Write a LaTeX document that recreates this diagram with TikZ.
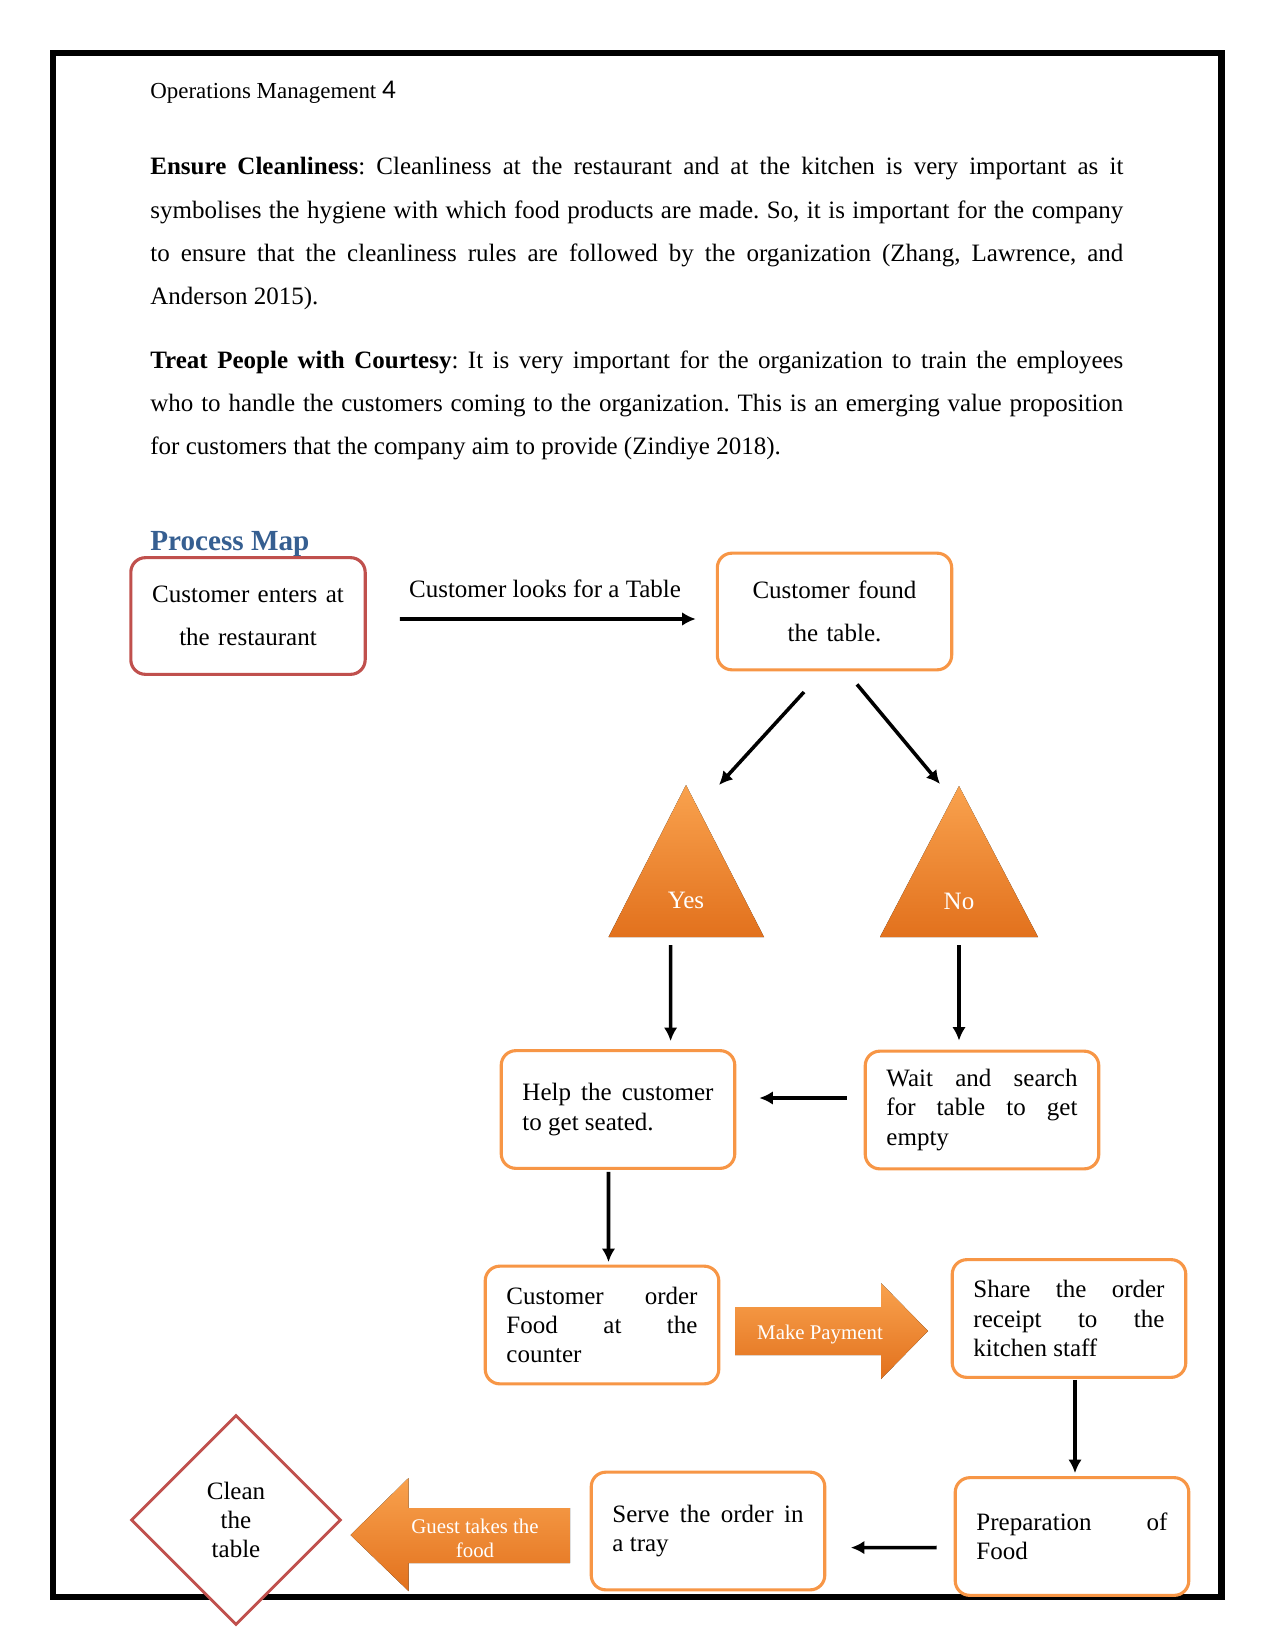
\documentclass[tikz,border=0pt]{standalone}
\usepackage{fontspec}
\setmainfont{Liberation Serif}
\newfontfamily\numfont{Carlito}
\usetikzlibrary{shapes.geometric,arrows.meta,calc}
\definecolor{accorange}{HTML}{F79646}
\definecolor{accred}{HTML}{C0504D}
\definecolor{headblue}{HTML}{365F91}
\definecolor{fillhi}{HTML}{F9A24E}
\definecolor{filllo}{HTML}{E2711D}
\frenchspacing
\begin{document}
\begin{tikzpicture}[
  x=0.48pt, y=-0.48pt,
  every node/.style={font=\fontsize{12}{14}\selectfont},
  para/.style={anchor=base west, inner sep=0pt, text width=467pt, align=justify,
    font=\fontsize{12}{20.64}\selectfont},
  topbox/.style={draw=#1, line width=1.5pt, rounded corners=7pt, fill=white,
    minimum width=112.5pt, minimum height=56pt, text width=100pt, align=center,
    font=\fontsize{12}{20.64}\selectfont},
  stepbox/.style={draw=accorange, line width=1.5pt, rounded corners=7pt, fill=white,
    minimum width=112pt, minimum height=56.5pt, inner xsep=10.2pt, text width=91.7pt,
    align=justify},
  blockarrow/.style={top color=fillhi, bottom color=filllo},
  whitelbl/.style={text=white, align=center, inner sep=0pt},
  arr/.style={-{Latex[length=6.5pt,width=6.5pt]}, line width=1.7pt}
]
  \useasboundingbox (0,0) rectangle (1275,1651);
  \draw[line width=2.9pt] (53,53) rectangle (1221.5,1596.5);

  \node[anchor=base west, inner sep=0pt, font=\fontsize{11}{13}\selectfont] (header) at (150,99)
    {Operations Management {\numfont\fontsize{13}{14}\selectfont 4}};
  \node[para] (cleanpara) at (150,175)
    {\textbf{Ensure Cleanliness}: Cleanliness at the restaurant and at the kitchen is very important as it\linebreak
     symbolises the hygiene with which food products are made. So, it is important for the company\linebreak
     to ensure that the cleanliness rules are followed by the organization (Zhang, Lawrence, and\linebreak
     Anderson 2015).};
  \node[para] (courtpara) at (150,368)
    {\textbf{Treat People with Courtesy}: It is very important for the organization to train the employees\linebreak
     who to handle the customers coming to the organization. This is an emerging value proposition\linebreak
     for customers that the company aim to provide (Zindiye 2018).};
  \node[anchor=base west, inner sep=0pt, text=headblue, font=\fontsize{14}{16}\selectfont\bfseries]
    (maptitle) at (150,550) {Process Map};

  \node[topbox=accred] (enter) at (248,616) {Customer enters at\\the restaurant};
  \node[topbox=accorange] (found) at (834.5,611.5) {Customer found\\the table.};
  \node (lookslbl) at (545,588.5) {Customer looks for a Table};
  \draw[arr] ($(enter.east)+(33,3)$) -- ($(found.west)+(-20,7.5)$);

  \coordinate (yestop) at (686,785);
  \coordinate (yesbase) at (686,937);
  \coordinate (notop) at (959,786);
  \coordinate (nobase) at (959,937);
  \fill[blockarrow] (yestop) -- (608.5,937) -- (764,937) -- cycle;
  \fill[blockarrow] (notop) -- (880,937) -- (1038,937) -- cycle;
  \node[whitelbl] (yes) at (686,900) {Yes};
  \node[whitelbl] (no) at (959,901) {No};
  \draw[arr] ($(found.south)+(-30.5,20.6)$) -- ($(yestop)+(33,0)$);
  \draw[arr] ($(found.south)+(22.5,13)$) -- ($(notop)+(-19,-2)$);

  \node[stepbox] (help) at (618,1109.5) {Help the customer\linebreak to get seated.};
  \node[stepbox] (wait) at (982,1110) {Wait and search\linebreak for table to get\linebreak empty};
  \draw[arr] ($(yesbase)+(-15.4,8)$) -- ($(help.north)+(52.6,-8)$);
  \draw[arr] ($(nobase)+(0,8)$) -- ($(wait.north)+(-23,-9)$);
  \draw[arr] ($(wait.west)+(-17,-12)$) -- ($(help.east)+(23,-11.5)$);

  \node[stepbox] (order) at (602,1325) {Customer order\linebreak Food at the\linebreak counter};
  \node[stepbox] (share) at (1069,1318.5) {Share the order\linebreak receipt to the\linebreak kitchen staff};
  \draw[arr] ($(help.south)+(-9.5,2)$) -- ($(order.north)+(6.5,-2.5)$);
  \fill[blockarrow] (735,1307) -- (881,1307) -- (881,1283) -- (928,1331)
    -- (881,1379) -- (881,1355) -- (735,1355) -- cycle;
  \node[whitelbl, font=\fontsize{10}{11.6}\selectfont] (paylbl) at (820,1335) {Make Payment};

  \node[stepbox] (prep) at (1072,1536.5) {Preparation of\linebreak Food};
  \node[stepbox] (serve) at (708,1531) {Serve the order in\linebreak a tray};
  \draw[arr] ($(share.south)+(6,1)$) -- ($(prep.north)+(3,-3)$);
  \draw[arr] ($(prep.west)+(-17,11)$) -- ($(serve.east)+(24.5,16.6)$);
  \fill[blockarrow] (570,1508) -- (408.5,1508) -- (408.5,1478) -- (350.5,1535)
    -- (408.5,1591) -- (408.5,1563) -- (570,1563) -- cycle;
  \node[whitelbl, font=\fontsize{10}{11.6}\selectfont] (guestlbl) at (475,1538) {Guest takes the\\food};

  \node[diamond, aspect=1, draw=accred, line width=1.4pt, fill=white, inner sep=0pt,
    minimum width=100.8pt, minimum height=100.8pt, align=center] (clean) at (236,1520)
    {Clean\\the\\table};
\end{tikzpicture}
\end{document}
